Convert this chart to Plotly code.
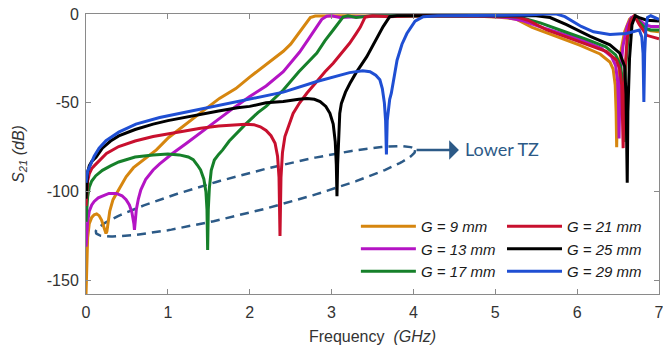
import numpy as np
import plotly.graph_objects as go

# ---------------- data ----------------
freq_g9 = [0, 0.008, 0.02, 0.04, 0.07, 0.1, 0.13, 0.16, 0.19, 0.215, 0.23, 0.244, 0.255, 0.27, 0.29, 0.33, 0.4, 0.49, 0.58,
           0.7, 0.86, 1.01, 1.2, 1.43, 1.63, 1.83, 2.0, 2.2, 2.41, 2.5, 2.61, 2.68, 2.74, 2.8, 2.9, 3.2, 3.6, 4.0, 4.5,
           4.8, 5.05, 5.25, 5.45, 5.7, 6.03, 6.28, 6.4, 6.44, 6.465, 6.476, 6.483, 6.49, 6.5, 6.53, 6.58, 6.64, 6.7,
           6.75, 6.82, 6.9, 7.0]
s21_g9 = [-158, -140, -126, -118, -114.5, -113, -112.5, -113.5, -116, -119.5, -122, -123.5, -122.5, -118, -111, -104.5,
          -98.5, -91.6, -86.5, -82, -76.5, -69.5, -62.5, -54.5, -47.5, -42, -35.5, -28.5, -21, -17, -10, -5.5, -2,
          -1.1, -1, -1, -1.2, -1.2, -1, -1.3, -1.8, -2.8, -7.5, -12, -17.5, -22.5, -27, -31, -40, -55, -75, -55,
          -38, -22, -10, -3, -1, -4, -8, -9.5, -10]

freq_g13 = [0, 0.008, 0.02, 0.04, 0.07, 0.1, 0.15, 0.2, 0.28, 0.37, 0.44, 0.49, 0.53, 0.56, 0.575, 0.585, 0.592, 0.6,
            0.615, 0.64, 0.67, 0.73, 0.82, 0.9, 1.06, 1.22, 1.42, 1.62, 1.8, 2.0, 2.2, 2.41, 2.61, 2.72, 2.82, 2.88,
            2.94, 3.0, 3.1, 3.3, 3.6, 4.0, 4.5, 4.9, 5.15, 5.35, 5.6, 5.85, 6.05, 6.3, 6.42, 6.47, 6.495, 6.505, 6.512,
            6.52, 6.53, 6.56, 6.61, 6.66, 6.71, 6.76, 6.83, 6.9, 7.0]
s21_g13 = [-131, -124, -117, -111, -107.5, -105.5, -103.5, -102.5, -101, -101, -102.3, -104.5, -107.5, -111.5, -114.5,
           -118, -121.5, -118, -110, -104, -99, -93, -87.8, -84.4, -78.4, -73, -66, -59, -53, -46.5, -40.5, -32.5,
           -21.4, -14, -7.3, -3, -1.2, -1, -2, -1.5, -1, -1, -1, -1.2, -2, -4, -8, -11.5, -14.5, -19.5, -24, -29,
           -38, -50, -70, -50, -32, -18, -7, -2, -1, -3.5, -6, -7, -7]

freq_g17 = [0, 0.008, 0.02, 0.04, 0.07, 0.12, 0.2, 0.3, 0.4, 0.6, 0.82, 1.0, 1.14, 1.25, 1.31, 1.36, 1.4, 1.44, 1.465,
            1.478, 1.486, 1.494, 1.507, 1.53, 1.568, 1.62, 1.67, 1.75, 1.85, 1.95, 2.1, 2.2, 2.41, 2.6, 2.82, 2.92,
            3.02, 3.1, 3.14, 3.2, 3.3, 3.5, 4.0, 4.5, 5.0, 5.3, 5.55, 5.85, 6.1, 6.35, 6.47, 6.53, 6.555, 6.565, 6.572,
            6.58, 6.59, 6.62, 6.66, 6.71, 6.76, 6.83, 6.9, 7.0]
s21_g17 = [-117, -110, -103, -97.5, -94, -91, -88, -85.5, -83.3, -80.5, -79.3, -78.8, -79.3, -80.5, -82, -85, -87.8,
           -93, -100, -110, -132.8, -110, -98, -88, -82.2, -79, -76.5, -71.5, -66.5, -62, -55.5, -52, -42.8, -32.5,
           -22, -15, -9, -4, -1.7, -1, -2, -1, -1, -1, -1, -1.8, -5, -10, -14, -18.5, -23, -29, -38, -50, -72, -50,
           -32, -14, -3, -1, -4.5, -8, -9, -9]

freq_g21 = [0, 0.008, 0.02, 0.04, 0.07, 0.1, 0.16, 0.25, 0.4, 0.6, 0.82, 1.0, 1.22, 1.4, 1.62, 1.8, 1.95, 2.05, 2.13,
            2.2, 2.26, 2.31, 2.34, 2.358, 2.37, 2.382, 2.40, 2.43, 2.48, 2.53, 2.61, 2.7, 2.82, 2.92, 3.02, 3.12, 3.22,
            3.3, 3.35, 3.41, 3.5, 3.7, 4.0, 4.5, 5.0, 5.25, 5.4, 5.63, 6.03, 6.36, 6.48, 6.52, 6.545, 6.555, 6.562,
            6.57, 6.58, 6.61, 6.65, 6.7, 6.76, 6.85, 7.0]
s21_g21 = [-108, -100, -94, -90, -87, -85.5, -82.5, -78.5, -74.6, -71.5, -69, -67.5, -65.6, -64.3, -63, -62.3, -62,
           -62.3, -63.5, -65.5, -68.5, -72.7, -80, -92, -125, -92, -78, -69, -62, -56, -50, -44.5, -38, -32.5,
           -27.7, -22, -16.5, -11, -7.5, -1.8, -1, -1.5, -1, -1, -1, -1.5, -3.5, -9, -15.6, -21.2, -26, -31, -40,
           -55, -75.5, -55, -35, -14, -4, -1, -6, -12, -14]

freq_g25 = [0, 0.008, 0.02, 0.04, 0.07, 0.122, 0.2, 0.3, 0.4, 0.6, 0.82, 1.0, 1.22, 1.4, 1.62, 1.85, 2.0, 2.2, 2.41,
            2.6, 2.7, 2.79, 2.86, 2.93, 2.98, 3.02, 3.045, 3.058, 3.066, 3.074, 3.087, 3.1, 3.12, 3.17, 3.225, 3.3,
            3.43, 3.53, 3.63, 3.71, 3.8, 4.0, 4.5, 5.0, 5.5, 5.67, 5.87, 6.16, 6.4, 6.52, 6.58, 6.597, 6.606, 6.612,
            6.62, 6.64, 6.67, 6.71, 6.76, 6.85, 7.0]
s21_g25 = [-104, -95, -89, -85.5, -83, -80.7, -75.5, -71.5, -68.6, -65, -62, -60, -58, -56.5, -54.6, -52.8, -52, -50,
           -49.3, -48, -47.5, -48, -49.3, -52, -55.9, -62, -72, -85, -102.5, -85, -65, -56, -50.3, -44, -39, -33,
           -24, -15.5, -7.1, -1.5, -1, -1, -1, -1, -1, -2, -6, -12.6, -17.4, -22, -29.5, -45, -65, -95, -55, -25,
           -6, -1, -2, -3.5, -4]

freq_g29 = [0, 0.008, 0.02, 0.04, 0.061, 0.1, 0.16, 0.244, 0.4, 0.61, 0.9, 1.22, 1.6, 2.0, 2.2, 2.41, 2.82, 3.22,
            3.38, 3.47, 3.54, 3.59, 3.62, 3.645, 3.66, 3.67, 3.68, 3.695, 3.71, 3.73, 3.76, 3.8, 3.86, 3.92, 4.02, 4.12,
            4.3, 4.7, 5.1, 5.4, 5.6, 5.75, 5.85, 5.95, 6.05, 6.2, 6.4, 6.6, 6.7, 6.76, 6.79, 6.805, 6.815, 6.825, 6.84,
            6.86, 6.9, 6.95, 7.0]
s21_g29 = [-95, -91, -88.5, -86.5, -84.4, -80, -75.5, -71.3, -66.5, -62, -58.3, -55.3, -51.5, -48, -46, -44, -38, -33,
           -32, -32.5, -34.5, -37, -42, -50, -60, -79, -60, -52, -48, -44.6, -36, -26, -17, -11, -4, -1.5, -1, -1,
           -1, -0.6, 0, 0, -1.5, -4.5, -7, -10, -11.5, -11, -10, -9, -13, -22, -49.5, -22, -8, -2, -1, -2, -3]

series_names = ["G = 9 mm", "G = 13 mm", "G = 17 mm", "G = 21 mm", "G = 25 mm", "G = 29 mm"]
series_freq = [freq_g9, freq_g13, freq_g17, freq_g21, freq_g25, freq_g29]
series_s21 = [s21_g9, s21_g13, s21_g17, s21_g21, s21_g25, s21_g29]
series_colors = ["#D6860F", "#B414C4", "#16802A", "#C8102E", "#000000", "#1F4FD3"]
series_legend = ["legend", "legend", "legend", "legend2", "legend2", "legend2"]

x_ticks = [0, 1, 2, 3, 4, 5, 6, 7]
y_ticks = [0, -50, -100, -150]
y_ticktext = ["0", "-50", "-100", "-150"]

# annotation ellipse ("Lower TZ" group), in data units
ell_center = (2.07, -99.8)
ell_major = (1.95, 23.2)
ell_minor = (0.06, -10.5)
tz_color = "#2C5A87"

FONT = "Arial, Liberation Sans, sans-serif"

fig = go.Figure()

t = np.linspace(0, 2 * np.pi, 240)
ex = ell_center[0] + ell_major[0] * np.cos(t) + ell_minor[0] * np.sin(t)
ey = ell_center[1] + ell_major[1] * np.cos(t) + ell_minor[1] * np.sin(t)
fig.add_trace(go.Scatter(x=ex, y=ey, mode="lines", showlegend=False, hoverinfo="skip",
                         line=dict(color=tz_color, width=2.5, dash="9px,6px")))

for name, f, s, c, lg in zip(series_names, series_freq, series_s21, series_colors, series_legend):
    fig.add_trace(go.Scatter(x=f, y=s, mode="lines", name=name, legend=lg,
                             line=dict(color=c, width=3)))

fig.add_annotation(x=4.556, y=-76.5, ax=4.02, ay=-76.5, xref="x", yref="y", axref="x", ayref="y",
                   text="", showarrow=True, arrowhead=1, arrowsize=1.3, arrowwidth=2.5,
                   arrowcolor=tz_color, standoff=0, startstandoff=0)
fig.add_annotation(x=4.6, y=-76, xref="x", yref="y", text="Lower TZ", showarrow=False,
                   xanchor="left", yanchor="middle",
                   font=dict(family="Lato, Noto Sans, sans-serif", size=18, color=tz_color))

axis_common = dict(showline=True, linecolor="#8a8a8a", linewidth=1, mirror="ticks", ticks="inside",
                   ticklen=5, tickcolor="#8a8a8a", showgrid=False, zeroline=False, automargin=False,
                   ticklabeloverflow="allow",
                   tickfont=dict(family=FONT, size=16, color="#333333"))

legend_common = dict(xanchor="left", yanchor="top", bgcolor="rgba(0,0,0,0)", borderwidth=0,
                     itemwidth=55, tracegroupgap=0,
                     font=dict(family=FONT, size=15, color="#1a1a1a", style="italic"))

fig.update_layout(
    width=663, height=354,
    margin=dict(l=86, r=4, t=14, b=60),
    paper_bgcolor="white", plot_bgcolor="white",
    xaxis=dict(range=[0, 7], tickvals=x_ticks, ticklabelstandoff=4,
               title=dict(text="Frequency&nbsp; <i>(GHz)</i>", standoff=10,
                          font=dict(family=FONT, size=16, color="#333333")),
               **axis_common),
    yaxis=dict(range=[-157.6, 0], tickvals=y_ticks, ticktext=y_ticktext, ticklabelstandoff=3,
               title=dict(text="<i>S</i><sub><i>21</i></sub> <i>(dB)</i>", standoff=18,
                          font=dict(family=FONT, size=16, color="#333333")),
               **axis_common),
    legend=dict(x=0.471, y=0.30, **legend_common),
    legend2=dict(x=0.726, y=0.30, **legend_common),
    showlegend=True,
)

fig.write_html("out.html", config={"displayModeBar": False},
               post_script="document.body.style.margin='0px';")
